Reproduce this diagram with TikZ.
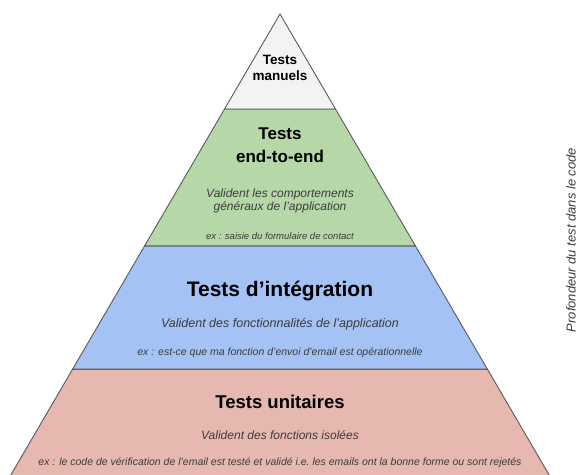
\documentclass[tikz,border=0pt]{standalone}
\usepackage{fontspec}
\setmainfont{Liberation Sans}
\usetikzlibrary{calc}
\definecolor{manualfill}{HTML}{F3F3F3}
\definecolor{e2efill}{HTML}{B6D7A8}
\definecolor{integfill}{HTML}{A4C2F4}
\definecolor{unitfill}{HTML}{E6B8AF}
\definecolor{edgeclr}{HTML}{595959}
\definecolor{noteclr}{HTML}{3C3C3C}
\tikzset{
  tier/.style     = {draw=edgeclr, line width=0.9pt, line join=round},
  lvltitle/.style = {align=center, font=\bfseries, text=black, inner sep=0pt},
  lvldesc/.style  = {align=center, font=\itshape\fontsize{12}{13}\selectfont,
                     text=noteclr, inner sep=0pt},
  lvlex/.style    = {align=center, font=\itshape\fontsize{10.5}{12}\selectfont,
                     text=noteclr, inner sep=0pt},
}

\begin{document}
\begin{tikzpicture}[x=1pt, y=-1pt]

\useasboundingbox (0,0) rectangle (577,474);
\clip (0,0) rectangle (577,474);

%% --- pyramid outline ---------------------------------------------------
\coordinate (apex) at (280,14);
\coordinate (bl)   at (11.4,474);
\coordinate (br)   at (548.6,474);

%% =====================================================================
%% Tiers (bottom up)
%% =====================================================================
\path[tier, fill=unitfill]
  ($(apex)!0.772!(bl)$) -- ($(apex)!0.772!(br)$) --
  ($(apex)!1.03!(br)$)  -- ($(apex)!1.03!(bl)$) -- cycle;
\path[tier, fill=integfill]
  ($(apex)!0.504!(bl)$) -- ($(apex)!0.504!(br)$) --
  ($(apex)!0.772!(br)$) -- ($(apex)!0.772!(bl)$) -- cycle;
\path[tier, fill=e2efill]
  ($(apex)!0.2065!(bl)$) -- ($(apex)!0.2065!(br)$) --
  ($(apex)!0.504!(br)$)  -- ($(apex)!0.504!(bl)$) -- cycle;
\path[tier, fill=manualfill]
  (apex) -- ($(apex)!0.2065!(br)$) -- ($(apex)!0.2065!(bl)$) -- cycle;

%% --- manual ------------------------------------------------------------
\node[lvltitle, font=\bfseries\fontsize{13.5}{16}\selectfont] (manual) at (280,68)
  {Tests\\manuels};

%% --- end-to-end --------------------------------------------------------
\node[lvltitle, font=\bfseries\fontsize{17}{23}\selectfont] (e2e) at (280,145)
  {Tests\\end-to-end};
\node[lvldesc] (e2e_desc) at (280,201)
  {Valident les comportements\\généraux de l'application};
\node[lvlex, font=\itshape\fontsize{9.5}{11}\selectfont] (e2e_ex) at (280,236)
  {ex : saisie du formulaire de contact};

%% --- integration -------------------------------------------------------
\node[lvltitle, font=\bfseries\fontsize{21}{24}\selectfont] (integ) at (280,291)
  {Tests d'intégration};
\node[lvldesc, font=\itshape\fontsize{12.5}{14}\selectfont] (integ_desc) at (280,324)
  {Valident des fonctionnalités de l'application};
\node[lvlex] (integ_ex) at (280,353)
  {ex : est-ce que ma fonction d'envoi d'email est opérationnelle};

%% --- unit --------------------------------------------------------------
\node[lvltitle, font=\bfseries\fontsize{18.5}{22}\selectfont] (unit) at (280,402)
  {Tests unitaires};
\node[lvldesc] (unit_desc) at (280,435)
  {Valident des fonctions isolées};
\node[lvlex] (unit_ex) at (280,463)
  {ex : le code de vérification de l'email est testé et validé i.e.\ les emails ont la bonne forme ou sont rejetés};

%% --- side axis label ---------------------------------------------------
\node[lvlex, font=\itshape\fontsize{13}{15}\selectfont, rotate=90] (depth) at (571,240)
  {Profondeur du test dans le code};

\end{tikzpicture}
\end{document}
